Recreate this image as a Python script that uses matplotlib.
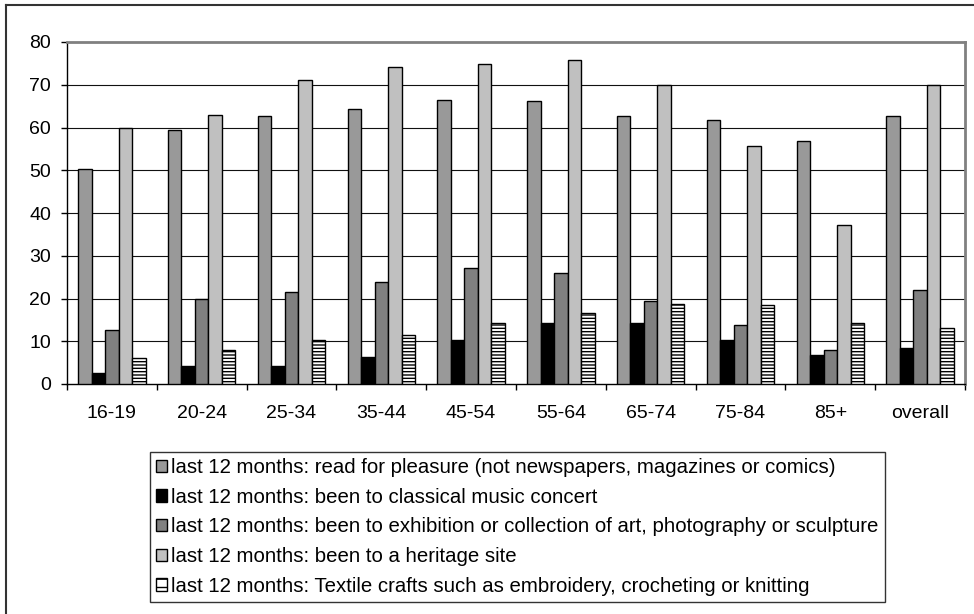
import matplotlib
matplotlib.use('Agg')
import numpy as np
import matplotlib.pyplot as plt
from matplotlib.patches import Patch
from matplotlib.lines import Line2D

plt.rcParams['font.family'] = ['Liberation Sans', 'DejaVu Sans']
plt.rcParams['hatch.linewidth'] = 1.0

ages = ['16-19', '20-24', '25-34', '35-44', '45-54', '55-64', '65-74', '75-84', '85+', 'overall']

read_pleasure = [50.4, 59.3, 62.8, 64.3, 66.4, 66.1, 62.6, 61.7, 56.9, 62.8]
classical = [2.5, 4.3, 4.2, 6.4, 10.2, 14.3, 14.2, 10.3, 6.9, 8.5]
exhibition = [12.6, 19.9, 21.6, 23.8, 27.2, 26.0, 19.5, 13.9, 7.9, 21.9]
heritage = [59.9, 62.9, 71.1, 74.2, 74.9, 75.9, 69.9, 55.6, 37.3, 69.9]
textile = [6.0, 7.9, 10.3, 11.4, 14.2, 16.5, 18.8, 18.5, 14.2, 13.2]

labels = [
    'last 12 months: read for pleasure (not newspapers, magazines or comics)',
    'last 12 months: been to classical music concert',
    'last 12 months: been to exhibition or collection of art, photography or sculpture',
    'last 12 months: been to a heritage site',
    'last 12 months: Textile crafts such as embroidery, crocheting or knitting',
]
series = [read_pleasure, classical, exhibition, heritage, textile]
colors = ['#999999', '#000000', '#808080', '#c0c0c0', '#ffffff']
hatches = [None, None, None, None, '-----']

fig = plt.figure(figsize=(9.74, 6.14), dpi=100)
ax = fig.add_axes([67/974, 1-384/614, (965-67)/974, (384-42)/614])

x = np.arange(len(ages))
w = 0.15
for i, (vals, c, h) in enumerate(zip(series, colors, hatches)):
    ax.bar(x + (i - 2) * w, vals, w, color=c, edgecolor='black', linewidth=1.0,
           hatch=h, zorder=3)

ax.set_xlim(-0.5, len(ages) - 0.5)
ax.set_ylim(0, 80)
ax.set_yticks(range(0, 81, 10))
ax.tick_params(axis='y', labelsize=14, length=4.5, width=1, direction='out', pad=7)
ax.set_xticks(x)
ax.set_xticklabels(ages)
ax.set_xticks(np.arange(-0.5, len(ages)), minor=True)
ax.tick_params(axis='x', which='major', length=0, labelsize=14, pad=15)
ax.tick_params(axis='x', which='minor', length=4.5, width=1, direction='out')

for yv in range(10, 80, 10):
    ax.axhline(yv, color='#111111', linewidth=0.8, zorder=1)

ax.spines['left'].set_color('black')
ax.spines['bottom'].set_color('black')
ax.spines['top'].set_color('#808080')
ax.spines['right'].set_color('#808080')
ax.spines['top'].set_linewidth(2)
ax.spines['right'].set_linewidth(2)
ax.spines['left'].set_linewidth(1)
ax.spines['bottom'].set_linewidth(1)

leg_hatches = [None, None, None, None, '--']
handles = [Patch(facecolor=c, edgecolor='black', hatch=h, linewidth=1.0)
           for c, h in zip(colors, leg_hatches)]
leg = fig.legend(handles, labels, loc='upper left',
                 bbox_to_anchor=(150/974, 1-452/614), borderaxespad=0,
                 fontsize=14.7, frameon=True, fancybox=False, edgecolor='black',
                 handlelength=0.55, handleheight=0.55, handletextpad=0.2,
                 labelspacing=0.52, borderpad=0.3)
leg.get_frame().set_linewidth(1.0)

fig.add_artist(Line2D([6/974, 6/974], [0, 1-5/614], color='#333333', linewidth=1.5))
fig.add_artist(Line2D([6/974, 1], [1-5/614, 1-5/614], color='#333333', linewidth=1.5))

fig.savefig('out.png', dpi=100)
